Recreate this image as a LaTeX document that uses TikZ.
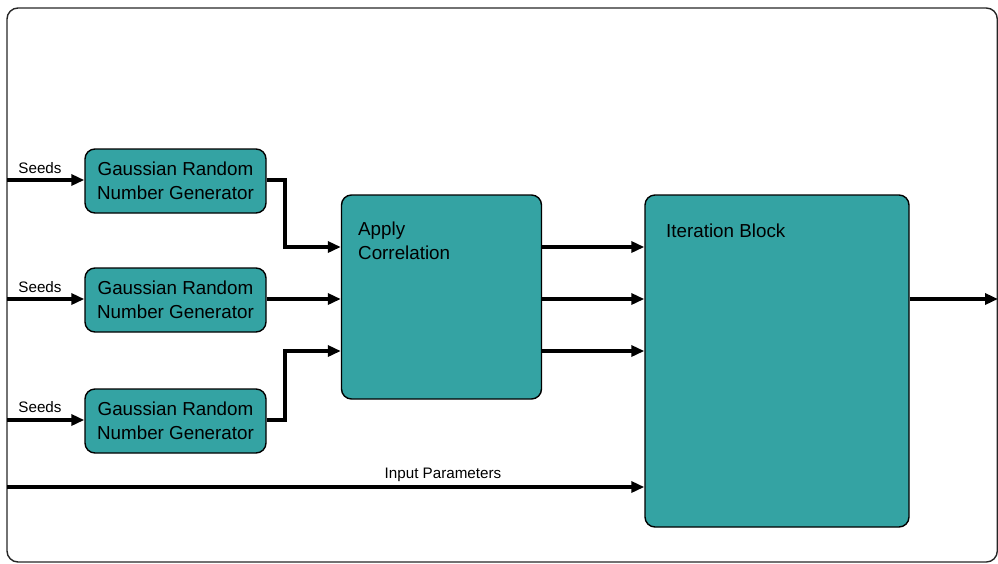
\documentclass[tikz,border=0pt]{standalone}
\usepackage{fontspec}
\setmainfont{Liberation Sans}
\usetikzlibrary{arrows.meta}
\definecolor{tealfill}{RGB}{52,163,163}
\tikzset{
  blk/.style={draw=black, line width=1.4pt, fill=tealfill, rounded corners=10pt, inner sep=0pt},
  conn/.style={line width=3.4pt, -{Triangle[length=13pt,width=11pt]}, line join=miter},
  big/.style={font=\fontsize{18.8}{24}\selectfont, text=black},
  small/.style={font=\fontsize{15.2}{18}\selectfont, text=black},
}
\begin{document}
\begin{tikzpicture}[x=1pt,y=-1pt]
\useasboundingbox (0,0) rectangle (998,563);
\draw[line width=1.4pt, draw=black!85, rounded corners=11pt] (7,8) rectangle (997.3,562);
% Gaussian generators
\node[blk, minimum width=181pt, minimum height=64pt, align=center, big] (g1) at (175.5,181) {Gaussian Random\\Number Generator};
\node[blk, minimum width=181pt, minimum height=64pt, align=center, big] (g2) at (175.5,300) {Gaussian Random\\Number Generator};
\node[blk, minimum width=181pt, minimum height=64pt, align=center, big] (g3) at (175.5,421) {Gaussian Random\\Number Generator};
% Apply correlation
\node[blk, minimum width=200pt, minimum height=204pt] (ac) at (441.5,297) {};
\node[big, anchor=north west, align=left, inner sep=0pt] (actext) at (358,222) {Apply\\Correlation};
% Iteration block
\node[blk, minimum width=264pt, minimum height=332pt] (ib) at (777,361) {};
\node[big, anchor=north west, inner sep=0pt] (ibtext) at (666,224) {Iteration Block};
% input coordinates
\coordinate (s1) at (7,180);
\coordinate (s2) at (7,299);
\coordinate (s3) at (7,420);
\coordinate (ip) at (7,487);
\coordinate (out) at (998,299);
\draw[conn] (s1) -- (g1.west |- s1);
\draw[conn] (s2) -- (g2.west |- s2);
\draw[conn] (s3) -- (g3.west |- s3);
\node[small, anchor=south] (l1) at (40,177) {Seeds};
\node[small, anchor=south] (l2) at (40,296) {Seeds};
\node[small, anchor=south] (l3) at (40,416) {Seeds};
% generators to apply correlation
\draw[conn] (g1.east |- s1) -- (285,180) -- (285,247) -- (ac.west |- 0,247);
\draw[conn] (g2.east |- s2) -- (ac.west |- s2);
\draw[conn] (g3.east |- s3) -- (285,420) -- (285,351) -- (ac.west |- 0,351);
% apply correlation to iteration block
\draw[conn] (ac.east |- 0,247) -- (ib.west |- 0,247);
\draw[conn] (ac.east |- 0,299) -- (ib.west |- 0,299);
\draw[conn] (ac.east |- 0,351) -- (ib.west |- 0,351);
% input parameters
\draw[conn] (ip) -- (ib.west |- ip);
\node[small, anchor=south] (iplabel) at (443,485) {Input Parameters};
% output
\draw[conn] (ib.east |- out) -- (out);
\end{tikzpicture}
\end{document}
